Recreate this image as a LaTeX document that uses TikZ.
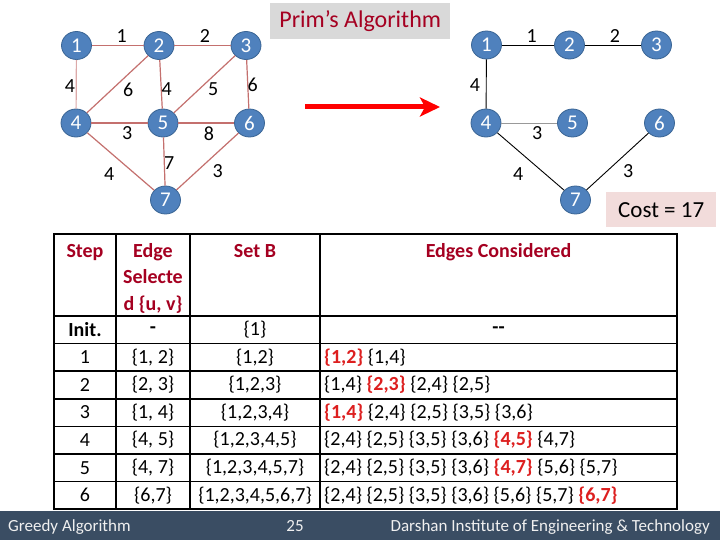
\documentclass[tikz,border=0pt]{standalone}
\usepackage{fontspec}
\setmainfont{Carlito}
\usetikzlibrary{shapes.geometric,arrows.meta}
\definecolor{nodeblue}{HTML}{4F81BD}
\definecolor{nodeborder}{HTML}{3A6595}
\definecolor{edgered}{RGB}{196,112,110}
\definecolor{hdrred}{HTML}{A50021}
\definecolor{selred}{HTML}{DD1F1F}
\definecolor{titlegray}{HTML}{D9D9D9}
\definecolor{costpink}{HTML}{F2DCDB}
\definecolor{footbar}{HTML}{3A4D63}
\definecolor{foottext}{HTML}{F0F0F0}
\newcommand{\fsz}[1]{\fontsize{#1}{#1}\selectfont}
\begin{document}
\begin{tikzpicture}[x=1pt,y=-1pt,
  gnode/.style={ellipse,fill=nodeblue,draw=nodeborder,line width=0.8pt,minimum width=30pt,minimum height=28pt,inner sep=0pt,text=white,font=\fsz{21}},
  elab/.style={inner sep=0pt,font=\fsz{20}},
  redge/.style={draw=edgered,line width=1.2pt},
  bedge/.style={draw=black,line width=0.9pt},
  gedge/.style={draw=gray!80,line width=0.9pt},
  hdr/.style={inner sep=0pt,anchor=base,text=hdrred,font=\fsz{20}\bfseries},
  cell/.style={inner sep=0pt,font=\fsz{20}},
  ecell/.style={inner sep=0pt,anchor=west,font=\fsz{20}},
  tline/.style={line width=1.6pt,line cap=rect},
  ftext/.style={inner sep=0pt,anchor=base,text=foottext,font=\fsz{17}}
]
\useasboundingbox (0,0) rectangle (720,540);
\fill[white] (0,0) rectangle (720,540);

% title
\node[fill=titlegray,minimum width=180pt,minimum height=36pt,inner sep=0pt,anchor=north west,text=hdrred,font=\fsz{24}] (title) at (270,3) {Prim’s Algorithm};

% left graph
\node[gnode] (L1) at (76.5,45.5) {1};
\node[gnode] (L2) at (159,45.5) {2};
\node[gnode] (L3) at (246,45.5) {3};
\node[gnode] (L4) at (76,123) {4};
\node[gnode] (L5) at (163,123) {5};
\node[gnode] (L6) at (249.5,123) {6};
\node[gnode] (L7) at (165.5,200) {7};
\draw[redge] (L1) -- (L2);
\draw[redge] (L2) -- (L3);
\draw[redge,draw=edgered!60] (L1) -- (L4);
\draw[redge] (L2) -- (L4);
\draw[redge] (L2) -- (L5);
\draw[redge] (L3) -- (L5);
\draw[redge] (L3) -- (L6);
\draw[redge] (L4) -- (L5);
\draw[redge] (L5) -- (L6);
\draw[redge] (L4) -- (L7);
\draw[redge] (L5) -- (L7);
\draw[redge] (L6) -- (L7);
\node[elab] (l12) at (121.7,36.5) {1};
\node[elab] (l23) at (205,36.5) {2};
\node[elab] (l14) at (70,86) {4};
\node[elab] (l24) at (128.3,89.5) {6};
\node[elab] (l25) at (166.7,89.5) {4};
\node[elab] (l35) at (213.3,89.5) {5};
\node[elab] (l36) at (252.7,85) {6};
\node[elab] (l45) at (127.3,133.5) {3};
\node[elab] (l56) at (209,133.5) {8};
\node[elab] (l57) at (169.3,163) {7};
\node[elab] (l47) at (109.3,174) {4};
\node[elab] (l67) at (217.7,171.5) {3};

% arrow
\coordinate (a0) at (305,107);
\coordinate (a1) at (440,107);
\draw[line width=5pt,draw={rgb,255:red,255;green,0;blue,0},-{Stealth[length=20pt,width=19pt,inset=5pt]}] (a0) -- (a1);

% right graph
\node[gnode] (R1) at (486.5,45) {1};
\node[gnode] (R2) at (569.5,45) {2};
\node[gnode] (R3) at (656.5,45) {3};
\node[gnode] (R4) at (486,123) {4};
\node[gnode] (R5) at (572.5,123) {5};
\node[gnode] (R6) at (659.5,123) {6};
\node[gnode] (R7) at (575.5,200) {7};
\draw[bedge] (R1) -- (R2);
\draw[bedge] (R2) -- (R3);
\draw[bedge] (R1) -- (R4);
\draw[gedge] (R4) -- (R5);
\draw[bedge] (R4) -- (R7);
\draw[bedge] (R6) -- (R7);
\node[elab] (r12) at (531.7,36.5) {1};
\node[elab] (r23) at (615,36.5) {2};
\node[elab] (r14) at (475,85) {4};
\node[elab] (r45) at (537.3,133) {3};
\node[elab] (r47) at (518.3,174) {4};
\node[elab] (r67) at (628.3,171.5) {3};

% cost box
\node[fill=costpink,minimum width=110pt,minimum height=35pt,inner sep=0pt,anchor=north west,font=\fsz{23}] (cost) at (606,192) {Cost = 17};

% table grid
\draw[tline] (54,234) rectangle (677,509);
\foreach \xx in {116,190,320} \draw[tline] (\xx,234) -- (\xx,509);
\foreach \yy in {316,343.6,371.1,398.7,426.3,453.9,481.4} \draw[tline] (54,\yy) -- (677,\yy);

% header
\node[hdr] (hStep) at (85,257) {Step};
\node[hdr] (hEdge1) at (153,257) {Edge};
\node[hdr] (hEdge2) at (153,283.5) {Selecte};
\node[hdr] (hEdge3) at (153,310) {d \{u, v\}};
\node[hdr] (hSet) at (255,257) {Set B};
\node[hdr] (hCons) at (498.5,257) {Edges Considered};

% rows
\node[cell,font=\fsz{20}\bfseries] (s0) at (85,329.8) {Init.};
\node[cell,font=\fsz{20}\bfseries] (e0) at (153,329.8) {-};
\node[cell] (b0) at (255,329.8) {\{1\}};
\node[cell,font=\fsz{20}\bfseries] (c0) at (498.5,329.8) {-{}-};

\node[cell] (s1) at (85,357.4) {1};
\node[cell] (e1) at (153,357.4) {\{1, 2\}};
\node[cell] (b1) at (255,357.4) {\{1,2\}};
\node[ecell] (c1) at (324,357.4) {\textcolor{selred}{\bfseries\{1,2\}} \{1,4\}};

\node[cell] (s2) at (85,384.9) {2};
\node[cell] (e2) at (153,384.9) {\{2, 3\}};
\node[cell] (b2) at (255,384.9) {\{1,2,3\}};
\node[ecell] (c2) at (324,384.9) {\{1,4\} \textcolor{selred}{\bfseries\{2,3\}} \{2,4\} \{2,5\}};

\node[cell] (s3) at (85,412.5) {3};
\node[cell] (e3) at (153,412.5) {\{1, 4\}};
\node[cell] (b3) at (255,412.5) {\{1,2,3,4\}};
\node[ecell] (c3) at (324,412.5) {\textcolor{selred}{\bfseries\{1,4\}} \{2,4\} \{2,5\} \{3,5\} \{3,6\}};

\node[cell] (s4) at (85,440.1) {4};
\node[cell] (e4) at (153,440.1) {\{4, 5\}};
\node[cell] (b4) at (255,440.1) {\{1,2,3,4,5\}};
\node[ecell] (c4) at (324,440.1) {\{2,4\} \{2,5\} \{3,5\} \{3,6\} \textcolor{selred}{\bfseries\{4,5\}} \{4,7\}};

\node[cell] (s5) at (85,467.7) {5};
\node[cell] (e5) at (153,467.7) {\{4, 7\}};
\node[cell] (b5) at (255,467.7) {\{1,2,3,4,5,7\}};
\node[ecell] (c5) at (324,467.7) {\{2,4\} \{2,5\} \{3,5\} \{3,6\} \textcolor{selred}{\bfseries\{4,7\}} \{5,6\} \{5,7\}};

\node[cell] (s6) at (85,495.2) {6};
\node[cell] (e6) at (153,495.2) {\{6,7\}};
\node[cell] (b6) at (255,495.2) {\{1,2,3,4,5,6,7\}};
\node[ecell] (c6) at (324,495.2) {\{2,4\} \{2,5\} \{3,5\} \{3,6\} \{5,6\} \{5,7\} \textcolor{selred}{\bfseries\{6,7\}}};

% footer
\fill[footbar] (0,511) rectangle (720,540);
\node[ftext,anchor=base west] (f1) at (8,531) {Greedy Algorithm};
\node[ftext] (f2) at (295,531) {25};
\node[ftext,anchor=base east] (f3) at (710,531) {Darshan Institute of Engineering \& Technology};
\end{tikzpicture}
\end{document}
